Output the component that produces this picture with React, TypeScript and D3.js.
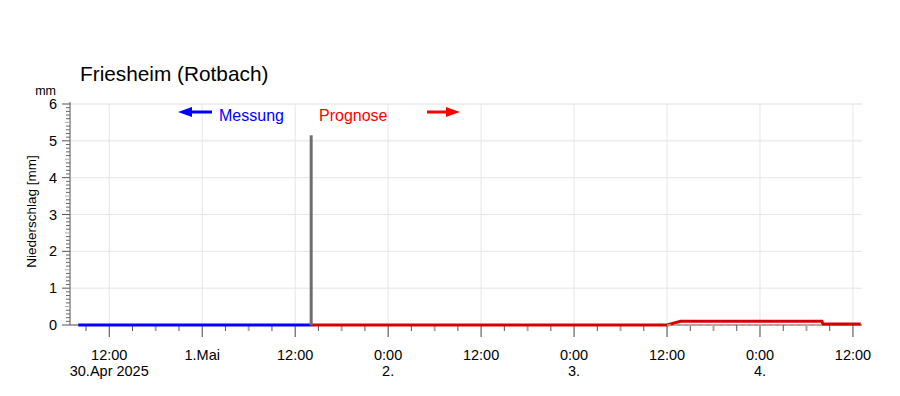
import React from "react";
import * as d3 from "d3";

// time window of the chart
const domainStart = new Date(2025, 3, 30, 6, 56);
const domainEnd = new Date(2025, 4, 4, 13, 10);

// measured precipitation (hourly, mm)
const measuredTimes = [
  new Date(2025, 3, 30, 8, 0),
  new Date(2025, 4, 1, 14, 0),
];
const measuredValues = [0, 0];
const measuredBarTimes = [new Date(2025, 4, 1, 14, 0)];
const measuredBarValues = [5.15];

// forecast precipitation (mm)
const forecastTimes = [
  new Date(2025, 4, 1, 14, 0),
  new Date(2025, 4, 3, 12, 0),
  new Date(2025, 4, 3, 13, 45),
  new Date(2025, 4, 4, 8, 0),
  new Date(2025, 4, 4, 8, 5),
  new Date(2025, 4, 4, 13, 0),
];
const forecastValues = [0, 0, 0.1, 0.1, 0.03, 0.03];
const forecastLowTimes = [new Date(2025, 4, 3, 12, 0), new Date(2025, 4, 4, 8, 0)];
const forecastLowValues = [0, 0];

// axis labels
const yTicks = [0, 1, 2, 3, 4, 5, 6];
const xTickLabels = ["12:00", "1.Mai", "12:00", "0:00", "12:00", "0:00", "12:00", "0:00", "12:00"];
const xTickSubLabels = ["30.Apr 2025", "", "", "2.", "", "3.", "", "4.", ""];

const W = 900;
const H = 396;
const margin = { left: 70, right: 38, top: 104, bottom: 71 };

export default function App() {
  const x = d3.scaleTime().domain([domainStart, domainEnd]).range([margin.left, W - margin.right]);
  const y = d3.scaleLinear().domain([0, 6]).range([H - margin.bottom, margin.top]);
  const y0 = y(0);

  const majorTicks = d3.timeHour.every(12)!.range(domainStart, domainEnd);
  const minorTicks = d3.timeHour.every(3)!.range(domainStart, domainEnd).filter(d => d.getHours() % 12 !== 0);
  const yMinor = d3.range(1, 60).filter(i => i % 10 !== 0).map(i => i / 10);

  const line = d3.line<[Date, number]>().x(d => x(d[0])).y(d => y(d[1]));
  const measured = measuredTimes.map((t, i) => [t, measuredValues[i]] as [Date, number]);
  const forecast = forecastTimes.map((t, i) => [t, forecastValues[i]] as [Date, number]);
  const forecastLow = forecastLowTimes.map((t, i) => [t, forecastLowValues[i]] as [Date, number]);

  const font = "'Liberation Sans', Arial, sans-serif";

  return (
    <svg width={W} height={H} style={{ position: "absolute", left: 0, top: 0, fontFamily: font }}>
      <rect width={W} height={H} fill="#fff" />
      {/* title */}
      <text x={80} y={81} fontSize={20.8} fill="#000">Friesheim (Rotbach)</text>

      {/* grid */}
      {yTicks.map(v => (
        <line key={"gy" + v} x1={margin.left} x2={W - margin.right} y1={y(v)} y2={y(v)}
          stroke={v === 6 || v === 5 ? "#efefef" : "#e6e6e6"} strokeWidth={v === 6 || v === 5 ? 2 : 1} />
      ))}
      {majorTicks.map((d, i) => (
        <line key={"gx" + i} x1={x(d)} x2={x(d)} y1={margin.top} y2={y0} stroke="#e6e6e6" />
      ))}

      {/* y axis */}
      <line x1={margin.left} x2={margin.left} y1={margin.top - 2} y2={y0} stroke="#555" />
      {yMinor.map(v => (
        <line key={"ym" + v} x1={margin.left - (Math.round(v * 10) % 5 === 0 ? 5 : 4)} x2={margin.left} y1={y(v)} y2={y(v)}
          stroke={Math.round(v * 10) % 5 === 0 ? "#aaa" : "#666"} />
      ))}
      {yTicks.map(v => (
        <g key={"yt" + v}>
          <line x1={margin.left - 8} x2={margin.left} y1={y(v)} y2={y(v)} stroke="#555" />
          <text x={57} y={y(v) + 5} textAnchor="end" fontSize={14.5} fill="#000">{v}</text>
        </g>
      ))}
      <text x={56} y={95} textAnchor="end" fontSize={12.5} fill="#000">mm</text>
      <text transform={`translate(36,${211.5}) rotate(-90)`} textAnchor="middle" fontSize={13.5} fill="#000">
        Niederschlag [mm]
      </text>

      {/* x axis */}
      <line x1={margin.left} x2={W - margin.right} y1={y0} y2={y0} stroke="#555" />
      {minorTicks.map((d, i) => (
        <line key={"xm" + i} x1={x(d)} x2={x(d)} y1={y0} y2={y0 + 6}
          stroke={d.getHours() % 12 === 6 ? "#aaa" : "#555"} strokeWidth={d.getHours() % 12 === 6 ? 2 : 1} />
      ))}
      {majorTicks.map((d, i) => (
        <g key={"xt" + i}>
          <line x1={x(d)} x2={x(d)} y1={y0} y2={y0 + 12} stroke="#444" />
          <text x={x(d)} y={360} textAnchor="middle" fontSize={14.5} fill="#000">{xTickLabels[i]}</text>
          {xTickSubLabels[i] && (
            <text x={x(d)} y={376} textAnchor="middle" fontSize={14.5} fill="#000">{xTickSubLabels[i]}</text>
          )}
        </g>
      ))}

      {/* forecast */}
      <path d={line(forecast)!} fill="none" stroke="#d40000" strokeWidth={3} />
      <path d={line(forecastLow)!} fill="none" stroke="#ff9090" strokeWidth={1.5} strokeDasharray="4,3" />

      {/* measurement */}
      <path d={line(measured)!} fill="none" stroke="#0000ff" strokeWidth={3} />
      {measuredBarTimes.map((t, i) => (
        <rect key={"mb" + i} x={x(t) - 1} y={y(measuredBarValues[i])} width={3} height={y0 - y(measuredBarValues[i])} fill="#6e6e6e" />
      ))}

      {/* legend */}
      <line x1={190} x2={212} y1={112} y2={112} stroke="#0000ff" strokeWidth={3} />
      <path d="M178,112 L192,107 L192,117 Z" fill="#0000ff" />
      <text x={219} y={121} fontSize={16} fill="#0000ff">Messung</text>
      <text x={319} y={121} fontSize={16} fill="#ff0000">Prognose</text>
      <line x1={427} x2={448} y1={112} y2={112} stroke="#ff0000" strokeWidth={3} />
      <path d="M460,112 L446,107 L446,117 Z" fill="#ff0000" />
    </svg>
  );
}
